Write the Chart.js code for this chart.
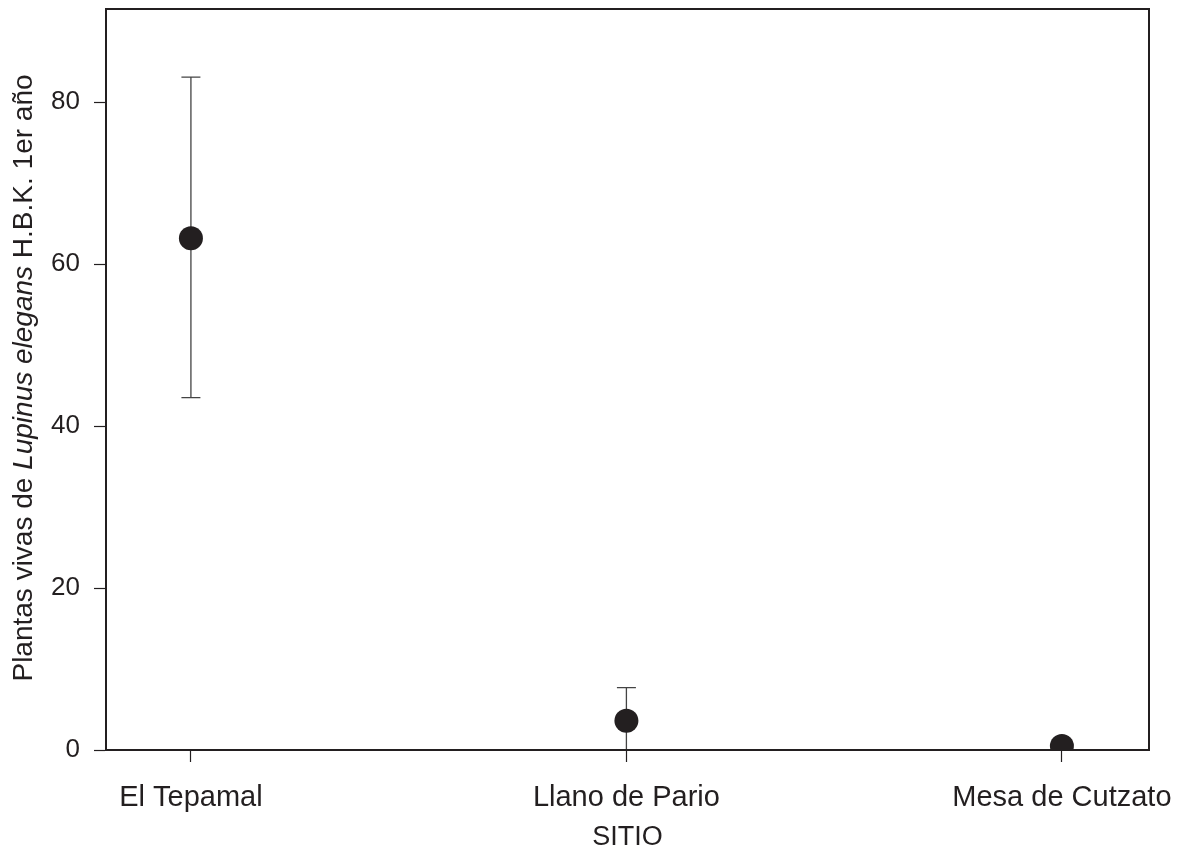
<!DOCTYPE html>
<html>
<head>
<meta charset="utf-8">
<script src="https://cdn.jsdelivr.net/npm/chart.js@4/dist/chart.umd.min.js"></script>
<style>
  html, body { margin: 0; padding: 0; background: #fff; }
  #wrap { width: 1186px; height: 854px; }
</style>
</head>
<body>
<div id="wrap"><canvas id="siteChart"></canvas></div>
<script>
// sites and mean live plants with error bar ends
const sites = ["El Tepamal", "Llano de Pario", "Mesa de Cutzato"];
const means = [63.2, 3.6, 0.5];
const upper = [83.1, 7.7, 0.5];
const lower = [43.5, -0.7, 0.5];
const yTicks = [0, 20, 40, 60, 80];

const ink = "#231f20";
const face = "'Liberation Sans', Arial, sans-serif";

// error bars drawn under the points
const errorBars = {
    id: "errorBars",
    beforeDatasetsDraw(chart) {
        let ctx = chart.ctx;
        let x = chart.scales.x;
        let y = chart.scales.y;
        let area = chart.chartArea;
        ctx.save();
        ctx.beginPath();
        ctx.rect(area.left, area.top, area.right - area.left, area.bottom - area.top);
        ctx.clip();
        ctx.strokeStyle = "#444";
        ctx.lineWidth = 1.3;
        for (let i = 0; i < sites.length; i++) {
            if (upper[i] === lower[i]) continue;
            let px = x.getPixelForValue(i);
            let top = y.getPixelForValue(upper[i]);
            let bot = y.getPixelForValue(lower[i]);
            ctx.beginPath();
            ctx.moveTo(px, top);
            ctx.lineTo(px, bot);
            ctx.moveTo(px - 9.5, top);
            ctx.lineTo(px + 9.5, top);
            ctx.moveTo(px - 9.5, bot);
            ctx.lineTo(px + 9.5, bot);
            ctx.stroke();
        }
        ctx.restore();
    }
};

// box around the plot and y title with italic species name
const frame = {
    id: "frame",
    afterDraw(chart) {
        let ctx = chart.ctx;
        let a = chart.chartArea;
        ctx.save();
        ctx.strokeStyle = ink;
        ctx.lineWidth = 2;
        ctx.strokeRect(a.left, a.top, a.right - a.left, a.bottom - a.top);

        let parts = [
            ["Plantas vivas de ", "normal"],
            ["Lupinus elegans", "italic"],
            [" H.B.K. 1er año", "normal"]
        ];
        let total = 0;
        parts.forEach(p => {
            ctx.font = p[1] + " 28px " + face;
            total += ctx.measureText(p[0]).width;
        });
        ctx.translate(32, 378);
        ctx.rotate(-Math.PI / 2);
        ctx.fillStyle = ink;
        ctx.textBaseline = "alphabetic";
        let pos = -total / 2;
        parts.forEach(p => {
            ctx.font = p[1] + " 28px " + face;
            ctx.fillText(p[0], pos, 0);
            pos += ctx.measureText(p[0]).width;
        });
        ctx.restore();
    }
};

function noOverhang(scale) {
    scale.paddingTop = 0;
    scale.paddingBottom = 0;
    scale.paddingLeft = 0;
    scale.paddingRight = 0;
}

let ctx = document.getElementById("siteChart").getContext("2d");

new Chart(ctx, {
    type: "scatter",
    data: {
        datasets: [{
            data: means.map((m, i) => ({ x: i, y: m })),
            pointRadius: 12,
            pointHoverRadius: 12,
            backgroundColor: ink,
            borderColor: ink,
            borderWidth: 0
        }]
    },
    options: {
        responsive: true,
        maintainAspectRatio: false,
        animation: false,
        layout: {
            autoPadding: false,
            padding: { top: 9, right: 37, left: 0, bottom: 0 }
        },
        plugins: {
            legend: { display: false },
            tooltip: { enabled: false }
        },
        scales: {
            x: {
                type: "linear",
                min: -0.195,
                max: 2.2,
                afterBuildTicks(scale) {
                    scale.ticks = sites.map((s, i) => ({ value: i }));
                },
                afterFit(scale) {
                    scale.height = 104;
                    noOverhang(scale);
                },
                ticks: {
                    callback: (v) => sites[v],
                    color: ink,
                    font: { family: face, size: 29 },
                    padding: 19,
                    maxRotation: 0
                },
                grid: { drawOnChartArea: false, tickLength: 12, color: ink, tickWidth: 1.2 },
                border: { display: true, color: ink, width: 2 },
                title: {
                    display: true,
                    text: "SITIO",
                    color: ink,
                    font: { family: face, size: 27 },
                    padding: { top: 0, bottom: 0 }
                }
            },
            y: {
                min: 0,
                max: 91.5,
                afterBuildTicks(scale) {
                    scale.ticks = yTicks.map(v => ({ value: v }));
                },
                afterFit(scale) {
                    scale.width = 106;
                    noOverhang(scale);
                },
                ticks: {
                    color: ink,
                    font: { family: face, size: 26 },
                    padding: 14
                },
                grid: { drawOnChartArea: false, tickLength: 12, color: ink, tickWidth: 1.2 },
                border: { display: true, color: ink, width: 2 }
            }
        }
    },
    plugins: [errorBars, frame]
});
</script>
</body>
</html>
